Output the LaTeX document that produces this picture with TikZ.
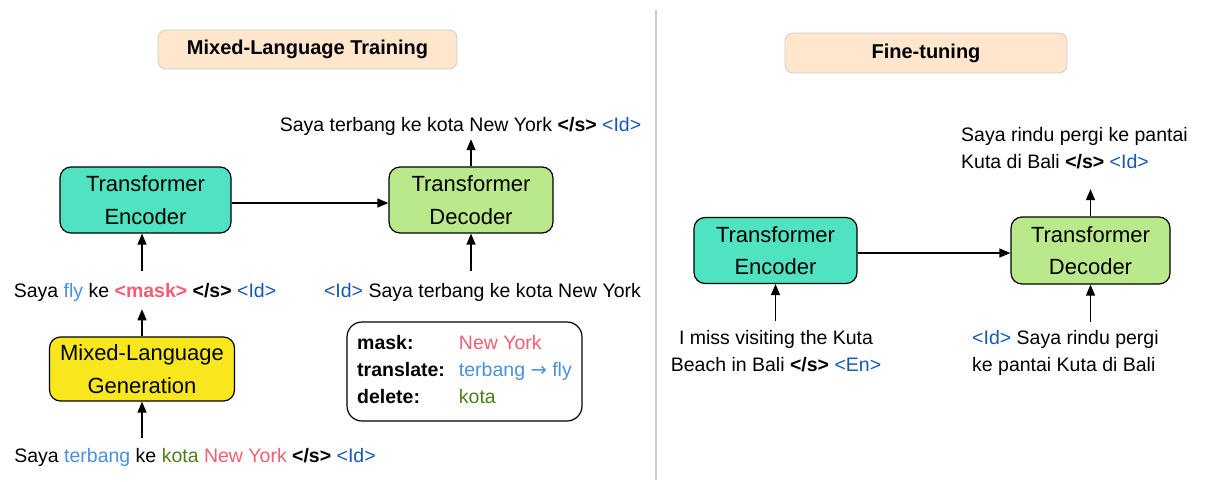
\documentclass[tikz,border=0pt]{standalone}
\usepackage{fontspec}
\setmainfont{Liberation Sans}
\newfontfamily\arrowfont{DejaVu Sans}
\usetikzlibrary{arrows.meta}

\definecolor{encfill}{HTML}{50E3C2}
\definecolor{decfill}{HTML}{B9E98A}
\definecolor{genfill}{HTML}{F8E71C}
\definecolor{phasefill}{HTML}{FFE6CC}
\definecolor{tokblue}{HTML}{4A90E2}
\definecolor{tagblue}{HTML}{1859B0}
\definecolor{maskred}{HTML}{F05F72}
\definecolor{delgreen}{HTML}{4D7F17}

\newcommand{\eos}{\textbf{</s>}}
\newcommand{\langtag}[1]{\textcolor{tagblue}{<#1>}}
\newcommand{\sentfont}{\fontsize{19.5}{27}\selectfont}
\newcommand{\boxfont}{\fontsize{22}{32.5}\selectfont}

\begin{document}
\begin{tikzpicture}[
    x=1pt, y=-1pt,
    >={Triangle[length=11pt, width=9pt]},
    model/.style={draw, rounded corners=11pt, line width=1.2pt, align=center, font=\boxfont, inner sep=0pt},
    phase/.style={draw=black!20, rounded corners=8pt, line width=0.8pt, fill=phasefill, font=\fontsize{20}{24}\selectfont\bfseries, inner sep=0pt},
    sent/.style={font=\sentfont, inner sep=0pt, align=center},
    flow/.style={->, line width=1.3pt}
]
\useasboundingbox (0,0) rectangle (1205,482);

% divider
\draw[black!20, line width=2pt] (656,10) -- (656,480);

% pretraining side
\node[phase, minimum width=299pt, minimum height=39pt] (titleL) at (307.5,49.5) {Mixed-Language Training};

\node[model, fill=encfill, minimum width=171pt, minimum height=66pt] (encL) at (145.5,200) {Transformer\\Encoder};
\node[model, fill=decfill, minimum width=164pt, minimum height=66pt] (decL) at (471,200) {Transformer\\Decoder};
\node[model, fill=genfill, minimum width=185pt, minimum height=64pt] (mlg) at (142,369) {Mixed-Language\\Generation};

\node[sent, anchor=base] (outL) at (460.5,131) {Saya terbang ke kota New York \eos{} \langtag{Id}};
\node[sent, anchor=base] (inEncL) at (145,297) {Saya \textcolor{tokblue}{fly} ke \textcolor{maskred}{\textbf{<mask>}} \eos{} \langtag{Id}};
\node[sent, anchor=base] (inDecL) at (482.5,297) {\langtag{Id} Saya terbang ke kota New York};
\node[sent, anchor=base] (srcL) at (195,462) {Saya \textcolor{tokblue}{terbang} ke \textcolor{delgreen}{kota} \textcolor{maskred}{New York} \eos{} \langtag{Id}};

\node[draw, rounded corners=15pt, line width=1.2pt, inner sep=9pt, font=\sentfont, minimum width=235pt, minimum height=93pt] (legend) at (464.5,371.5) {%
    \begin{tabular}{@{}l@{\hspace{14pt}}l@{}}
    \textbf{mask:} & \textcolor{maskred}{New York}\\
    \textbf{translate:} & \textcolor{tokblue}{terbang {\arrowfont →} fly}\\
    \textbf{delete:} & \textcolor{delgreen}{kota}
    \end{tabular}};

\draw[flow] (encL.east |- 0,203) -- (decL.west |- 0,203);
\draw[flow, shorten >=4pt] (decL.north) -- (decL.north |- outL.south);
\draw[flow, shorten <=12pt] (mlg.north |- inEncL.north) -- (encL.south -| mlg.north);
\draw[flow, shorten >=8pt] (mlg.north) -- (mlg.north |- inEncL.south);
\draw[flow, shorten <=10pt] (mlg.south |- srcL.north) -- (mlg.south);
\draw[flow, shorten <=12pt] (decL.south |- inDecL.north) -- (decL.south);

% fine-tuning side
\node[phase, minimum width=282pt, minimum height=40pt] (titleR) at (926,53) {Fine-tuning};

\node[model, fill=encfill, minimum width=163pt, minimum height=66pt] (encR) at (775.5,250.5) {Transformer\\Encoder};
\node[model, fill=decfill, minimum width=159pt, minimum height=67pt] (decR) at (1090.5,250.5) {Transformer\\Decoder};

% multi-line nodes sit on the baseline of their last line
\node[sent, anchor=base west, align=left] (outR) at (961,168.5) {Saya rindu pergi ke pantai\\Kuta di Bali \eos{} \langtag{Id}};
\node[sent, anchor=base] (inEncR) at (776,371.5) {I miss visiting the Kuta\\Beach in Bali \eos{} \langtag{En}};
\node[sent, anchor=base west, align=left] (inDecR) at (972,371.5) {\langtag{Id} Saya rindu pergi\\ke pantai Kuta di Bali};

\draw[flow] (encR.east |- 0,253) -- (decR.west |- 0,253);
\draw[flow, shorten >=20pt] (decR.north) -- (decR.north |- outR.south);
\draw[flow, shorten <=9pt] (encR.south |- inEncR.north) -- (encR.south);
\draw[flow, shorten <=8pt] (decR.south |- inDecR.north) -- (decR.south);

\end{tikzpicture}
\end{document}
